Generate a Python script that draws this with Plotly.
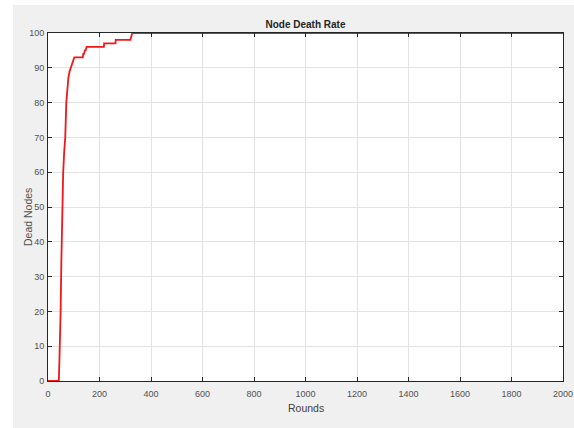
import plotly.graph_objects as go

rounds = [0, 42, 44, 46, 49, 52, 55, 59, 63, 67, 71, 75, 79, 84, 88, 92, 96, 102,
          135, 137, 140, 143, 146, 150, 157, 217, 218, 262, 263, 320, 327, 2000]
dead = [0, 0, 5, 10, 20, 35, 50, 60, 66, 70, 80, 84, 87, 89, 90, 91, 92, 93,
        93, 94, 94, 95, 95, 96, 96, 96, 97, 97, 98, 98, 100, 100]

x_ticks = [0, 200, 400, 600, 800, 1000, 1200, 1400, 1600, 1800, 2000]
y_ticks = [0, 10, 20, 30, 40, 50, 60, 70, 80, 90, 100]

W, H = 574, 428
L, R, T, B = 48, 11, 33, 47
pw, ph = W - L - R, H - T - B
FONT = "Liberation Sans Narrow, Liberation Sans, Arial"

fig = go.Figure()
fig.add_trace(go.Scatter(x=rounds, y=dead, mode="lines",
                         line=dict(color="#f01818", width=1.8), showlegend=False))

axis_common = dict(showline=True, linecolor="#262626", linewidth=1, mirror="ticks",
                   ticks="inside", ticklen=4, tickcolor="#262626", automargin=False,
                   showgrid=True, gridcolor="#e3e3e3", gridwidth=1, zeroline=False,
                   tickfont=dict(family=FONT, size=9, color="#505050"))

fig.update_xaxes(range=[0, 2000], tickvals=x_ticks, ticklabelstandoff=4, **axis_common)
fig.update_yaxes(range=[0, 100], tickvals=y_ticks, ticklabelstandoff=1, **axis_common)

# axis titles as annotations for exact placement
fig.add_annotation(text="Rounds", xref="paper", yref="paper",
                   x=0.5, y=-(408 - (H - B)) / ph, xanchor="center", yanchor="middle",
                   showarrow=False, font=dict(family=FONT, size=10.5, color="#404040"))
fig.add_annotation(text="Dead Nodes", xref="paper", yref="paper", textangle=-90,
                   x=(28 - L) / pw, y=((H - B) - 217) / ph, xanchor="center", yanchor="middle",
                   showarrow=False, font=dict(family=FONT, size=10.5, color="#505050"))

# white strips on left and top outside grey figure panel
fig.add_shape(type="rect", xref="paper", yref="paper",
              x0=-L / pw - 0.01, x1=(13 - L) / pw, y0=-B / ph - 0.01, y1=(ph + T) / ph + 0.01,
              fillcolor="white", line=dict(width=0), layer="below")
fig.add_shape(type="rect", xref="paper", yref="paper",
              x0=-L / pw - 0.01, x1=(W - L) / pw + 0.01, y0=(ph + T - 5) / ph, y1=(ph + T) / ph + 0.01,
              fillcolor="white", line=dict(width=0), layer="below")

fig.update_layout(
    template="none",
    width=W, height=H,
    margin=dict(l=L, r=R, t=T, b=B),
    paper_bgcolor="#f0f0f0", plot_bgcolor="white",
    title=dict(text="<b>Node Death Rate</b>", x=(L + pw / 2) / W, xanchor="center",
               y=1 - 24 / H, yanchor="middle",
               font=dict(family=FONT, size=10, color="#262626")),
)

fig.write_html("out.html")
